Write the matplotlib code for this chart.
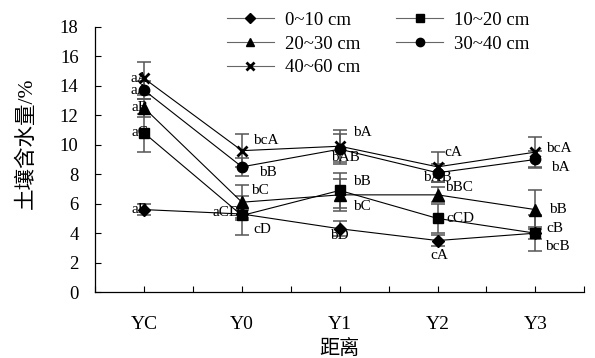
import matplotlib
matplotlib.use("Agg")
import matplotlib.pyplot as plt
import numpy as np

plt.rcParams['font.family'] = ['Liberation Serif', 'Noto Sans CJK SC']

# -------------------------------
# DATA
# -------------------------------
sites = ["YC", "Y0", "Y1", "Y2", "Y3"]
depths = ["0~10 cm", "10~20 cm", "20~30 cm", "30~40 cm", "40~60 cm"]

moist_0_10 = [5.6, 5.3, 4.3, 3.5, 4.0]
moist_10_20 = [10.8, 5.2, 6.9, 5.0, 4.0]
moist_20_30 = [12.5, 6.1, 6.6, 6.6, 5.6]
moist_30_40 = [13.7, 8.5, 9.7, 8.1, 9.0]
moist_40_60 = [14.5, 9.6, 9.9, 8.5, 9.5]

err_0_10 = [0.4, 0.3, 0.5, 0.4, 1.2]
err_10_20 = [1.3, 1.3, 1.2, 1.0, 0.4]
err_20_30 = [0.6, 1.2, 1.1, 0.5, 1.3]
err_30_40 = [0.6, 0.6, 1.0, 0.6, 0.6]
err_40_60 = [1.1, 1.1, 1.1, 1.0, 1.0]

sig_0_10 = ["aB", "aCD", "bD", "cA", "bcB"]
sig_10_20 = ["aC", "cD", "bB", "cCD", "cB"]
sig_20_30 = ["aB", "bC", "bC", "bBC", "bB"]
sig_30_40 = ["aA", "bB", "bAB", "bAB", "bA"]
sig_40_60 = ["aA", "bcA", "bA", "cA", "bcA"]

values = [moist_0_10, moist_10_20, moist_20_30, moist_30_40, moist_40_60]
errors = [err_0_10, err_10_20, err_20_30, err_30_40, err_40_60]
letters = [sig_0_10, sig_10_20, sig_20_30, sig_30_40, sig_40_60]

# -------------------------------
# STYLE
# -------------------------------
markers = ["D", "s", "^", "o", "x"]
msizes = [6, 7.5, 8, 7.5, 7]

# label offsets in pixels (dx, dy, ha) for each series / site
label_pos = [
    [(4, 0, "right"), (-2, 2, "right"), (0, -7, "center"), (2, -15, "center"), (10, -13, "left")],
    [(4, 0, "right"), (11, -14, "left"), (13, 9, "left"), (9, 0, "left"), (11, 5, "left")],
    [(4, 0, "right"), (9, 12, "left"), (13, -12, "left"), (7, 7, "left"), (14, 0, "left")],
    [(4, 0, "right"), (17, -6, "left"), (6, -8, "center"), (0, -5, "center"), (16, -8, "left")],
    [(4, 0, "right"), (11, 10, "left"), (13, 14, "left"), (7, 14, "left"), (11, 4, "left")],
]

fig = plt.figure(figsize=(5.95, 3.58), dpi=100)
ax = fig.add_axes([0.16, 0.184, 0.822, 0.741])

x = np.arange(len(sites))

# error bars first so the markers sit on top
for v, e in zip(values, errors):
    ax.errorbar(x, v, yerr=e, fmt="none", ecolor="#555555", elinewidth=1.1,
                capsize=5, capthick=1.1, zorder=2)

handles = []
for v, m, ms, lab in zip(values, markers, msizes, depths):
    mew = 2.0 if m == "x" else 1.0
    h, = ax.plot(x, v, color="black", linewidth=0.8, marker=m, markersize=ms,
                 markerfacecolor="black", markeredgecolor="black",
                 markeredgewidth=mew, label=lab, zorder=3)
    handles.append(h)

for v, sig, pos in zip(values, letters, label_pos):
    for xi, yi, s, (dx, dy, ha) in zip(x, v, sig, pos):
        ax.annotate(s, (xi, yi), xytext=(dx, dy), textcoords="offset pixels",
                    ha=ha, va="center", fontsize=11, zorder=4)

# -------------------------------
# AXES
# -------------------------------
ax.set_xlim(-0.5, 4.5)
ax.set_ylim(0, 18)
ax.set_yticks(np.arange(0, 19, 2))
ax.set_xticks(x)
ax.set_xticklabels(sites)
ax.set_xticks(np.arange(-0.5, 4.6, 0.5), minor=True)
ax.tick_params(axis="x", which="both", direction="in", length=4, width=0.8,
               labelsize=14, pad=17)
ax.tick_params(axis="y", direction="in", length=4, width=0.8, labelsize=13.5, pad=12)
ax.spines["top"].set_visible(False)
ax.spines["right"].set_visible(False)
for sp in ("left", "bottom"):
    ax.spines[sp].set_linewidth(0.9)

ax.set_ylabel("土壤含水量/%", fontsize=15.5)
ax.yaxis.set_label_coords(-0.12, 0.56)
ax.set_xlabel("距离", fontsize=14.5, labelpad=5)

order = [0, 2, 4, 1, 3]
leg = ax.legend([handles[i] for i in order], [depths[i] for i in order],
                ncol=2, frameon=False, fontsize=13.5, handlelength=2.5,
                columnspacing=1.9, labelspacing=0.35, handletextpad=0.6,
                markerscale=0.8, loc="upper left",
                bbox_to_anchor=(0.235, 1.12))
for line in leg.get_lines():
    line.set_color("#666666")
    line.set_markerfacecolor("black")
    line.set_markeredgecolor("black")

fig.savefig("out.png", dpi=100)
